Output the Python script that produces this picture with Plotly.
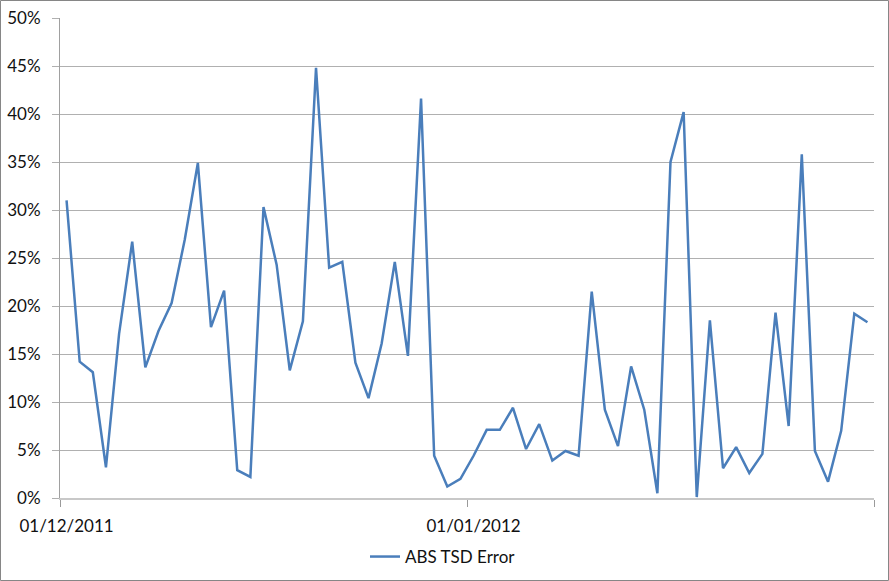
import pandas as pd
import plotly.graph_objects as go

# Daily values (fraction), 01/12/2011 .. 31/01/2012
start_date = "2011-12-01"
abs_tsd_error = [
    0.310, 0.142, 0.131, 0.032, 0.171, 0.267, 0.136, 0.174, 0.203, 0.269,
    0.349, 0.178, 0.216, 0.029, 0.022, 0.303, 0.243, 0.133, 0.184, 0.448,
    0.240, 0.246, 0.141, 0.104, 0.161, 0.246, 0.148, 0.416, 0.044, 0.012,
    0.020, 0.044, 0.071, 0.071, 0.094, 0.051, 0.077, 0.039, 0.049, 0.044,
    0.215, 0.092, 0.054, 0.137, 0.092, 0.005, 0.350, 0.402, 0.001, 0.185,
    0.031, 0.053, 0.026, 0.046, 0.193, 0.075, 0.358, 0.049, 0.017, 0.070,
    0.192, 0.183,
]
series_name = "ABS TSD Error"
tick_dates = ["2011-12-01", "2012-01-01"]
tick_labels = ["01/12/2011", "01/01/2012"]
axis_start, axis_end = "2011-12-01", "2012-02-01"
boundary_dates = ["2011-12-01", "2012-01-01", "2012-02-01"]

# Excel date axis: each point sits in the middle of its day slot
half_day = pd.Timedelta(hours=12)
x_dates = pd.date_range(start_date, periods=len(abs_tsd_error), freq="D") + half_day
label_pos = [pd.Timestamp(d) + half_day for d in tick_dates]

fig = go.Figure()
fig.add_trace(go.Scatter(
    x=x_dates, y=abs_tsd_error, mode="lines", name=series_name,
    line=dict(color="#4a7ebb", width=2.5),
))

W, H = 889, 581
ml, mr, mt, mb = 60, 15, 18, 83
pw, ph = W - ml - mr, H - mt - mb

font = dict(family="Lato, 'Open Sans', sans-serif", size=17, color="#111111")

fig.update_layout(
    width=W, height=H,
    margin=dict(l=ml, r=mr, t=mt, b=mb, pad=0, autoexpand=False),
    paper_bgcolor="white", plot_bgcolor="white",
    font=font,
    showlegend=True,
    legend=dict(orientation="h", x=0.5 - 24 / pw, xanchor="center", y=(ph - (557 - mt)) / ph,
                yanchor="middle", font=font, itemwidth=30),
    xaxis=dict(
        type="date", range=[axis_start, axis_end], automargin=False,
        tickmode="array", tickvals=label_pos, ticktext=tick_labels,
        ticks="", showgrid=False, zeroline=False,
        showline=True, linecolor="#c8c8c8", linewidth=2,
        ticklabelstandoff=12,
        minor=dict(tickmode="array", tickvals=boundary_dates, ticks="outside",
                   ticklen=7, tickcolor="#9a9a9a", tickwidth=1, showgrid=False),
    ),
    yaxis=dict(
        range=[0, 0.5], dtick=0.05, tickformat=".0%", automargin=False,
        showgrid=True, gridcolor="#b0b0b0", gridwidth=1,
        ticks="outside", ticklen=7, tickcolor="#b0b0b0",
        showline=True, linecolor="#a0a0a0", linewidth=1,
        zeroline=False, ticklabelstandoff=8,
    ),
    shapes=[dict(
        type="rect", xref="paper", yref="paper",
        x0=(0.5 - ml) / pw, x1=(W - 0.5 - ml) / pw,
        y0=(ph - (H - 0.5 - mt)) / ph, y1=(ph - (0.5 - mt)) / ph,
        line=dict(color="#868686", width=1), fillcolor="rgba(0,0,0,0)",
        layer="above",
    )],
)

fig.write_html(
    "out.html",
    config={"displayModeBar": False},
    post_script="document.body.style.margin='0';document.body.style.overflow='hidden';",
)
